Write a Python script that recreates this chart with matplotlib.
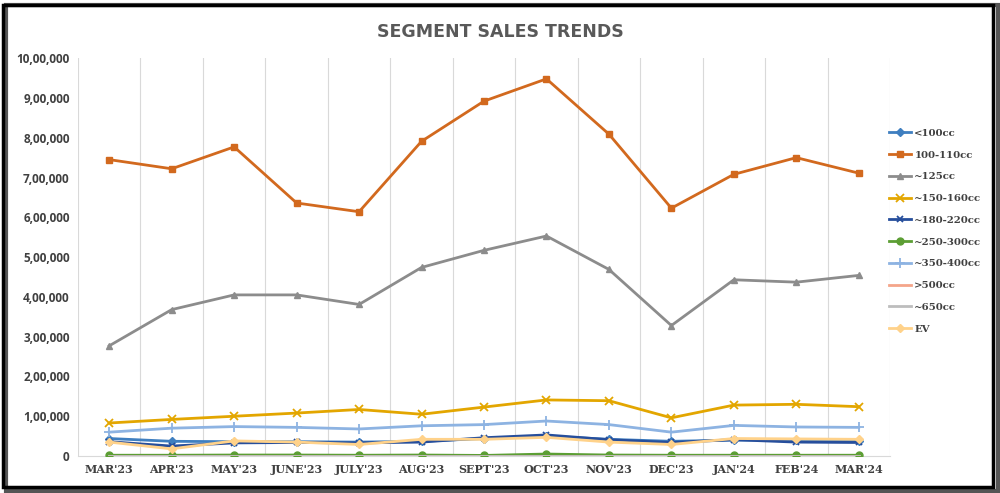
import matplotlib
matplotlib.use("Agg")
import matplotlib.pyplot as plt
from matplotlib.patches import Rectangle
from matplotlib.ticker import FuncFormatter

months = ["MAR'23", "APR'23", "MAY'23", "JUNE'23", "JULY'23", "AUG'23", "SEPT'23",
          "OCT'23", "NOV'23", "DEC'23", "JAN'24", "FEB'24", "MAR'24"]

lt100 = [44000, 37000, 36000, 36000, 35000, 37000, 44000, 50000, 42000, 37000, 40000, 40000, 38000]
s100_110 = [745000, 722000, 777000, 636000, 614000, 791000, 892000, 948000, 809000, 623000, 708000, 750000, 711000]
s125 = [277000, 368000, 405000, 405000, 381000, 474000, 517000, 553000, 469000, 328000, 443000, 437000, 454000]
s150_160 = [83000, 92000, 100000, 108000, 117000, 105000, 123000, 141000, 139000, 96000, 128000, 130000, 124000]
s180_220 = [36000, 25000, 33000, 34000, 33000, 35000, 46000, 53000, 41000, 34000, 41000, 35000, 34000]
s250_300 = [2000, 2000, 2500, 2500, 2000, 2500, 1500, 5000, 2500, 2000, 2000, 2000, 2000]
s350_400 = [60000, 70000, 74000, 72000, 68000, 76000, 79000, 88000, 79000, 60000, 77000, 73000, 72000]
gt500 = [800, 800, 800, 800, 800, 800, 800, 800, 800, 800, 800, 800, 800]
s650 = [1000, 1000, 1000, 1000, 1000, 1000, 1000, 1000, 1000, 1000, 1000, 1000, 1000]
ev = [35000, 18000, 38000, 35000, 29000, 42000, 42000, 47000, 35000, 29000, 44000, 43000, 42000]

series = [
    ("<100cc", lt100, "#3F7FC0", "D", 4),
    ("100-110cc", s100_110, "#D2691E", "s", 5),
    ("~125cc", s125, "#8C8C8C", "^", 5),
    ("~150-160cc", s150_160, "#E3A600", "x", 6),
    ("~180-220cc", s180_220, "#264E9C", "x", 5),
    ("~250-300cc", s250_300, "#5C9E34", "o", 5),
    ("~350-400cc", s350_400, "#8DB3E2", "+", 7),
    (">500cc", gt500, "#F4A58A", None, 0),
    ("~650cc", s650, "#BDBDBD", None, 0),
    ("EV", ev, "#FFD28A", "D", 4),
]

fig = plt.figure(figsize=(10, 4.93), dpi=100)
fig.patch.set_facecolor("white")

# outer border with shadow
fig.patches.append(Rectangle((0.006, 0.004), 0.992, 0.985, transform=fig.transFigure,
                             facecolor="none", edgecolor="#555555", lw=3, zorder=0))
fig.patches.append(Rectangle((0.003, 0.012), 0.99, 0.978, transform=fig.transFigure,
                             facecolor="none", edgecolor="black", lw=2.5, zorder=1))

ax = fig.add_axes([0.078, 0.075, 0.812, 0.807])
x = list(range(len(months)))
for name, vals, col, mk, ms in series:
    mew = 1.3 if mk in ("x", "+") else 1
    ax.plot(x, vals, color=col, lw=2.0, marker=mk, markersize=ms, markeredgewidth=mew,
            label=name, zorder=3)

ax.set_xlim(-0.5, len(months) - 0.5)
ax.set_ylim(0, 1000000)
ax.set_xticks(x)
ax.set_xticklabels(months, fontfamily="DejaVu Serif", fontweight="bold",
                   fontsize=8, color="#404040")
ax.set_yticks(range(0, 1000001, 100000))

def indian(v, pos):
    v = int(round(v))
    if v == 0:
        return "0"
    s = str(v)
    last3 = s[-3:]
    rest = s[:-3]
    parts = []
    while len(rest) > 2:
        parts.insert(0, rest[-2:])
        rest = rest[:-2]
    if rest:
        parts.insert(0, rest)
    return ",".join(parts + [last3])

ax.yaxis.set_major_formatter(FuncFormatter(indian))
for lbl in ax.get_yticklabels():
    lbl.set_fontweight("bold")
    lbl.set_fontsize(8.5)
    lbl.set_color("#404040")
    lbl.set_fontfamily("Open Sans")

ax.set_xticks([i + 0.5 for i in range(-1, len(months))], minor=True)
ax.grid(False)
ax.xaxis.grid(True, which="minor", color="#D9D9D9", lw=0.8)
ax.tick_params(axis="both", which="both", length=0)
ax.tick_params(axis="x", pad=6)
ax.tick_params(axis="y", pad=6)
for sp in ["top", "left", "right"]:
    ax.spines[sp].set_visible(False)
ax.spines["bottom"].set_color("#D9D9D9")

fig.text(0.5, 0.935, "SEGMENT SALES TRENDS", ha="center", va="center",
         fontsize=12.5, fontweight="bold", color="#595959", fontfamily="DejaVu Sans")

leg = fig.legend(loc="upper left", bbox_to_anchor=(0.889, 0.739), frameon=False,
                 prop={"family": "DejaVu Serif", "weight": "bold", "size": 7.3},
                 handlelength=2.2, labelspacing=1.25, handletextpad=0.3,
                 borderpad=0, borderaxespad=0)
for t in leg.get_texts():
    t.set_color("#404040")

fig.savefig("out.png", dpi=100)
